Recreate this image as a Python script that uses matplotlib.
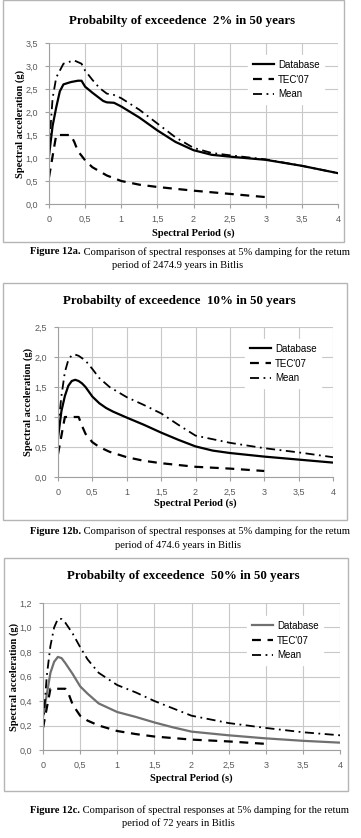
import matplotlib
matplotlib.use("Agg")
import matplotlib.pyplot as plt
from matplotlib.ticker import FuncFormatter, MultipleLocator

W, H = 361, 838

# ---------------- data ----------------
titles = ["Probabilty of exceedence  2% in 50 years",
          "Probabilty of exceedence  10% in 50 years",
          "Probabilty of exceedence  50% in 50 years"]
captions_bold = ["Figure 12a.", "Figure 12b.", "Figure 12c."]
captions_rest = [" Comparison of spectral responses at 5% damping for the retum"] * 3
captions_line2 = ["period of 2474.9 years in Bitlis",
                  "period of 474.6 years in Bitlis",
                  "period of 72 years in Bitlis"]
legend_labels = ["Database", "TEC'07", "Mean"]
ymax = [3.5, 2.5, 1.2]
ystep = [0.5, 0.5, 0.2]

# Panel a (2%)
db_x_a = [0, 0.05, 0.1, 0.15, 0.2, 0.3, 0.4, 0.45, 0.5, 0.6, 0.7, 0.75, 0.8, 0.9, 1.0, 1.25, 1.5, 1.75, 2.0, 2.25, 2.5, 3.0, 3.5, 4.0]
db_y_a = [1.05, 1.7, 2.1, 2.45, 2.6, 2.65, 2.68, 2.68, 2.55, 2.42, 2.3, 2.24, 2.21, 2.2, 2.12, 1.88, 1.6, 1.35, 1.17, 1.07, 1.03, 0.96, 0.83, 0.67]
tec_x_a = [0, 0.1, 0.15, 0.3, 0.35, 0.4, 0.5, 0.6, 0.8, 1.0, 1.25, 1.5, 2.0, 2.5, 3.0]
tec_y_a = [0.58, 1.5, 1.5, 1.5, 1.35, 1.15, 0.95, 0.8, 0.62, 0.5, 0.42, 0.37, 0.29, 0.22, 0.15]
mean_x_a = [0, 0.05, 0.1, 0.2, 0.3, 0.35, 0.45, 0.5, 0.6, 0.7, 0.8, 0.9, 1.0, 1.25, 1.5, 1.75, 2.0, 2.25, 2.5, 3.0, 3.5, 4.0]
mean_y_a = [1.2, 2.3, 2.75, 3.05, 3.1, 3.12, 3.05, 2.9, 2.7, 2.52, 2.4, 2.37, 2.3, 2.05, 1.75, 1.45, 1.22, 1.11, 1.06, 0.97, 0.83, 0.67]

# Panel b (10%)
db_x_b = [0, 0.05, 0.1, 0.15, 0.2, 0.25, 0.3, 0.35, 0.4, 0.5, 0.6, 0.7, 0.8, 1.0, 1.25, 1.5, 1.75, 2.0, 2.25, 2.5, 3.0, 3.5, 4.0]
db_y_b = [0.65, 1.1, 1.35, 1.52, 1.6, 1.62, 1.6, 1.56, 1.5, 1.34, 1.23, 1.15, 1.09, 0.99, 0.87, 0.74, 0.62, 0.51, 0.44, 0.4, 0.34, 0.29, 0.24]
tec_x_b = [0, 0.1, 0.15, 0.3, 0.35, 0.4, 0.5, 0.6, 0.75, 1.0, 1.25, 1.5, 2.0, 2.5, 3.0]
tec_y_b = [0.38, 1.0, 1.0, 1.0, 0.85, 0.72, 0.58, 0.5, 0.42, 0.33, 0.27, 0.23, 0.17, 0.14, 0.1]
mean_x_b = [0, 0.05, 0.1, 0.15, 0.2, 0.25, 0.3, 0.4, 0.5, 0.6, 0.75, 1.0, 1.25, 1.5, 1.75, 2.0, 2.5, 3.0, 3.5, 4.0]
mean_y_b = [0.8, 1.35, 1.75, 1.95, 2.03, 2.04, 2.02, 1.94, 1.8, 1.65, 1.5, 1.33, 1.2, 1.06, 0.87, 0.69, 0.57, 0.48, 0.41, 0.33]

# Panel c (50%)
db_x_c = [0, 0.05, 0.1, 0.15, 0.2, 0.25, 0.3, 0.4, 0.5, 0.6, 0.75, 1.0, 1.25, 1.5, 1.75, 2.0, 2.5, 3.0, 3.5, 4.0]
db_y_c = [0.27, 0.45, 0.63, 0.72, 0.76, 0.75, 0.71, 0.62, 0.52, 0.46, 0.38, 0.31, 0.27, 0.225, 0.185, 0.15, 0.12, 0.095, 0.075, 0.06]
tec_x_c = [0, 0.1, 0.15, 0.3, 0.35, 0.4, 0.5, 0.6, 0.75, 1.0, 1.25, 1.5, 2.0, 2.5, 3.0]
tec_y_c = [0.18, 0.5, 0.5, 0.5, 0.45, 0.37, 0.28, 0.24, 0.2, 0.155, 0.13, 0.11, 0.085, 0.07, 0.05]
mean_x_c = [0, 0.05, 0.1, 0.15, 0.2, 0.25, 0.3, 0.4, 0.5, 0.6, 0.75, 1.0, 1.25, 1.5, 1.75, 2.0, 2.5, 3.0, 3.5, 4.0]
mean_y_c = [0.18, 0.6, 0.85, 1.0, 1.07, 1.07, 1.04, 0.95, 0.84, 0.74, 0.63, 0.53, 0.47, 0.4, 0.34, 0.28, 0.22, 0.18, 0.145, 0.12]

panels = [
    (db_x_a, db_y_a, tec_x_a, tec_y_a, mean_x_a, mean_y_a),
    (db_x_b, db_y_b, tec_x_b, tec_y_b, mean_x_b, mean_y_b),
    (db_x_c, db_y_c, tec_x_c, tec_y_c, mean_x_c, mean_y_c),
]
db_colors = ["black", "black", "#707070"]

# ---------------- layout (pixels) ----------------
axes_px = [(49, 338, 43, 204), (58, 333, 327, 477), (43, 340, 603, 750)]
box_px = [(3, 344, 0, 242), (3, 347, 283, 520), (4, 348, 558, 791)]
title_pos = [(182, 21), (179, 301), (183, 576)]
xlabel_y = [233, 503, 778]
ylabel_x = [20, 28, 14]
cap_y = [(252, 265), (531, 545), (810, 823)]
legend_pos = [(243, 50), (240, 334), (242, 611)]

SERIF = "Liberation Serif"
SANS = "Liberation Sans"

fig = plt.figure(figsize=(W / 100, H / 100), dpi=100)
fig.patch.set_facecolor("white")

def fx(px):
    return px / W

def fy(py):
    return 1 - py / H

def fmt_y(v, pos):
    return f"{v:.1f}".replace(".", ",")

def fmt_x(v, pos):
    return f"{v:g}".replace(".", ",")

renderer = fig.canvas.get_renderer()

for i in range(3):
    dbx, dby, tx, ty, mx, my = panels[i]
    bl, br, bt, bb = box_px[i]
    rect = plt.Rectangle((fx(bl), fy(bb)), fx(br) - fx(bl), fy(bt) - fy(bb),
                         transform=fig.transFigure, fill=False,
                         edgecolor="#b5b5b5", lw=1.0, zorder=0)
    fig.patches.append(rect)

    l, r, t, b = axes_px[i]
    ax = fig.add_axes([fx(l), fy(b), fx(r) - fx(l), fy(t) - fy(b)])
    ax.set_xlim(0, 4)
    ax.set_ylim(0, ymax[i])
    ax.xaxis.set_major_locator(MultipleLocator(0.5))
    ax.yaxis.set_major_locator(MultipleLocator(ystep[i]))
    ax.xaxis.set_major_formatter(FuncFormatter(fmt_x))
    ax.yaxis.set_major_formatter(FuncFormatter(fmt_y))
    ax.grid(True, color="#c8c8c8", lw=0.8)
    ax.set_axisbelow(True)
    for s in ["top", "right"]:
        ax.spines[s].set_visible(False)
    for s in ["left", "bottom"]:
        ax.spines[s].set_color("#a0a0a0")
        ax.spines[s].set_linewidth(0.8)
    ax.tick_params(axis="both", colors="#a0a0a0", length=3, width=0.8,
                   labelcolor="#595959", labelsize=6.5, pad=5)
    for lab in ax.get_xticklabels() + ax.get_yticklabels():
        lab.set_family(SANS)

    l1, = ax.plot(dbx, dby, color=db_colors[i], lw=1.6, solid_joinstyle="round")
    l2, = ax.plot(tx, ty, color="black", lw=1.6, dashes=(4, 3))
    l3, = ax.plot(mx, my, color="black", lw=1.3, dashes=(5, 2.5, 1, 2.5))

    lx, ly = legend_pos[i]
    ax.legend([l1, l2, l3], legend_labels,
              loc="upper left",
              bbox_to_anchor=(fx(lx), fy(ly)),
              bbox_transform=fig.transFigure,
              frameon=True, framealpha=1.0, edgecolor="white",
              fancybox=False, prop={"family": SANS, "size": 7},
              handlelength=2.2, handletextpad=0.4, labelspacing=0.5,
              borderpad=0.5)

    tx_, ty_ = title_pos[i]
    fig.text(fx(tx_), fy(ty_), titles[i],
             family=SERIF, weight="bold", size=9.3, ha="center", va="center")
    fig.text(fx((l + r) / 2), fy(xlabel_y[i]), "Spectral Period (s)",
             family=SERIF, weight="bold", size=7.5, ha="center", va="center")
    fig.text(fx(ylabel_x[i]), fy((t + b) / 2), "Spectral acceleration (g)",
             family=SERIF, weight="bold", size=7.5, ha="center", va="center",
             rotation=90)

    c1, c2 = cap_y[i]
    bold_t = fig.text(0, fy(c1), captions_bold[i], family=SERIF, weight="bold",
                      size=7.6, ha="left", va="center")
    rest_t = fig.text(0, fy(c1), captions_rest[i], family=SERIF,
                      size=7.6, ha="left", va="center")
    wb = bold_t.get_window_extent(renderer).width
    wr = rest_t.get_window_extent(renderer).width
    x0 = 190 - (wb + wr) / 2
    bold_t.set_x(fx(x0))
    rest_t.set_x(fx(x0 + wb))
    fig.text(fx(178), fy(c2), captions_line2[i], family=SERIF, size=7.6,
             ha="center", va="center")

fig.savefig("out.png", dpi=100, facecolor="white")
